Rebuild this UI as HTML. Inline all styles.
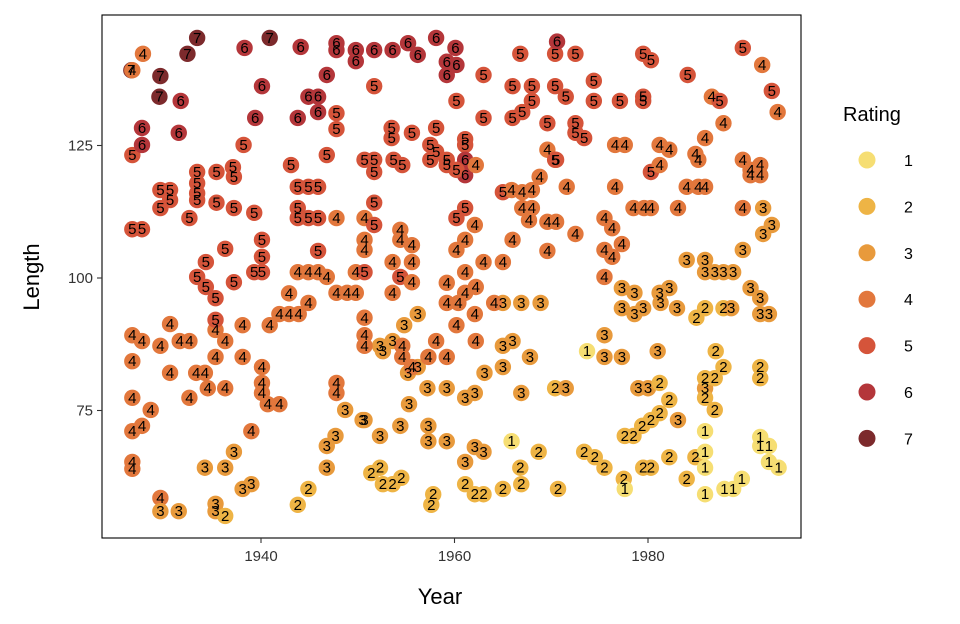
<!DOCTYPE html>
<html><head><meta charset="utf-8">
<style>
body{margin:0;background:#fff;font-family:"Liberation Sans",Arial,sans-serif;}
svg{display:block}
</style></head>
<body>
<svg id="chart" width="960" height="624" xmlns="http://www.w3.org/2000/svg">
<rect x="0" y="0" width="960" height="624" fill="#fff"/>
<g id="points"></g>
<rect x="102" y="15" width="699" height="523" fill="none" stroke="#000" stroke-width="1.1"/>
<g id="axes"></g>
<text x="440" y="604" font-size="22" text-anchor="middle" fill="#000">Year</text>
<text transform="translate(39,277) rotate(-90)" font-size="22" text-anchor="middle" fill="#000">Length</text>
<g id="legend">
<text x="843" y="121" font-size="20" fill="#000">Rating</text>
</g>
</svg>
<script>
const years=[1926.6,1926.7,1927.7,1927.7,1926.7,1927.7,1926.7,1927.7,1926.7,1926.7,1927.7,1926.7,1928.6,1926.7,1926.7,1929.6,1929.6,1931.5,1930.6,1929.6,1931.6,1932.6,1930.6,1933.3,1934.2,1934.5,1932.6,1936.3,1935.3,1935.3,1935.3,1936.3,1938.1,1938.1,1940.1,1940.1,1940.1,1940.7,1941.9,1939,1934.2,1936.3,1937.2,1935.3,1935.3,1936.3,1938.1,1939,1929.6,1930.6,1929.6,1930.6,1932.6,1933.4,1933.4,1933.4,1933.4,1935.4,1935.4,1937.1,1937.2,1937.2,1939.3,1938.2,1939.4,1940.1,1938.3,1931.7,1931.5,1934.3,1933.4,1934.3,1935.3,1936.3,1937.2,1939.3,1940.1,1940.1,1940.1,1943.1,1943.8,1943.8,1943.8,1944.9,1944.9,1945.9,1945.9,1946.8,1945.9,1947.8,1943.8,1944.9,1945.9,1946.8,1942.9,1944.9,1947.8,1948.9,1949.8,1949.8,1943.9,1942.9,1941.9,1940.9,1947.8,1947.8,1948.7,1950.7,1947.7,1946.8,1946.8,1944.9,1943.8,1944.1,1943.8,1944.9,1945.9,1945.9,1946.8,1947.8,1947.8,1947.8,1947.8,1949.8,1949.8,1951.7,1953.6,1956.2,1955.2,1958.1,1959.2,1960.1,1960.2,1959.2,1951.7,1950.7,1951.7,1951.7,1953.7,1953.5,1953.5,1954.6,1955.6,1957.5,1957.5,1958.1,1958.1,1959.2,1959.2,1960.2,1961.1,1961.1,1961.1,1961.1,1960.2,1962.2,1963,1963,1960.2,1961.1,1960.2,1961.1,1962.1,1963,1965,1966,1965,1966,1965.9,1967,1967,1968,1968,1966,1968,1968,1967,1966.8,1970.4,1970.4,1969.6,1969.6,1970.4,1971.5,1970.6,1972.5,1972.5,1972.5,1973.4,1974.4,1974.4,1970.5,1971.6,1968.8,1967.7,1969.6,1970.5,1969.6,1972.5,1975.5,1976.6,1975.5,1976.3,1977.3,1975.5,1976.3,1977.1,1976.6,1977.6,1979.5,1979.5,1980.3,1979.5,1980.3,1978.5,1979.6,1980.3,1981.2,1981.2,1982.2,1983.1,1984.1,1984,1985.2,1985.2,1985.9,1984.9,1985.9,1986.6,1987.4,1987.8,1989.8,1989.8,1991.8,1992.8,1993.4,1989.8,1990.6,1991.6,1991.6,1990.6,1991.9,1991.9,1992.8,1989.8,1985.9,1985.9,1986.9,1987.8,1988.8,1984,1982.2,1981.2,1978.6,1977.3,1977.3,1978.6,1979.5,1981.3,1983,1985,1985.9,1987.8,1988.6,1990.6,1991.6,1991.6,1992.5,1975.5,1975.5,1977.3,1981,1979,1980,1981.2,1982.2,1983.1,1985.9,1985.9,1986.9,1987.8,1987,1985.9,1986.9,1991.6,1991.6,1978.5,1977.6,1979.4,1980.3,1981.2,1979.5,1977.5,1975.5,1974.5,1973.4,1980.3,1982.2,1984.9,1984,1985.9,1985.9,1985.9,1985.9,1987.9,1988.8,1989.7,1991.6,1991.6,1992.5,1992.5,1993.5,1977.6,1973.7,1965.9,1966.9,1967.8,1965,1966,1965,1966.9,1968.9,1965,1963.1,1962.1,1961.1,1959.2,1957.2,1956.2,1956.2,1955.2,1955.3,1954.4,1952.3,1950.5,1957.3,1957.3,1959.2,1961.1,1962.1,1963,1961.1,1962.1,1963,1965,1966.9,1966.8,1968.7,1970.7,1957.8,1957.6,1952.3,1951.4,1952.6,1953.6,1954.5,1970.4,1971.5,1952.6,1953.6,1954.8,1952.3,1950.7,1950.7,1950.7,1954.6,1954.6,1955.6,1957.3,1958.1,1959.2,1960.2,1959.2,1959.2,1960.4,1961.1,1962.2,1962.1,1964.1,1962.2,1961.1,1953.6,1953.6,1954.4,1954.4,1954.4,1955.6,1955.6,1955.6,1950.7,1950.7,1950.7,1951.7,1950.7,1951.7,1926.7,1927.8,1929.6,1929.5,1932.4,1933.4,1940.9];
const lengths=[139.2,123.2,128.3,125.1,109.2,109.2,89.2,88.1,84.3,77.4,72.1,71.1,75.1,65.3,64,58.5,56,56,91.3,87.2,88.1,88.1,82.1,82.1,82.1,79.2,77.4,79.2,85.1,90.2,92.1,88.1,85.1,91.1,83.2,80.2,78.3,76.2,76.2,71.1,64.2,64.2,67.2,57.4,56,55.1,60.2,61.1,116.6,116.6,113.2,114.7,111.3,120,117.9,116,114.7,120,114.2,120.9,119.1,113.2,112.3,125.1,130.2,136.2,143.4,133.4,127.4,103,100.2,98.3,96.2,105.5,99.2,101.1,101.1,104,107.2,121.3,117.2,113.2,111.3,117.2,111.3,117.2,111.3,123.2,105.1,111.3,101.1,101.1,101.1,100.2,97.1,95.3,97.2,97.2,97.2,101.1,93.2,93.2,93.2,91.1,80.2,78.3,75.1,73.2,70.2,68.3,64.2,60.2,57.2,143.6,130.2,134.2,134.2,131.3,138.3,144.3,143,131.1,128.1,143,140.9,143,143,142.1,144.3,145.3,140.8,143.4,140.2,138.3,136.2,122.3,122.3,120,122.3,128.3,126.4,121.3,127.4,125.1,122.3,128.3,123.8,122.3,121.3,133.4,126.2,125.1,122.3,119.4,120.4,121.3,130.2,138.3,111.3,113.2,105.3,107.2,110,103,103,107.2,116.2,130.2,116.6,113.2,116.2,116.6,113.2,136.2,136.2,133.4,131.3,142.3,142.3,136.2,129.2,124.2,122.3,134.2,144.6,142.3,129.2,127.4,126.4,137.2,133.4,122.3,117.2,119.1,110.9,110.6,110.6,105.1,108.3,111.3,117.2,105.3,109.4,106.4,100.2,104,133.4,125.1,125.1,133.4,142.3,141.1,134.2,120,113.2,113.2,113.2,125.1,121.3,124.2,113.2,138.3,117.2,122.3,117.2,117.2,123.4,126.4,134.2,133.4,129.2,113.2,143.4,140.2,135.3,131.3,122.3,120.4,121.3,119.4,119.4,113.2,108.3,110,105.3,103.4,101.1,101.1,101.1,101.1,103.4,98.1,97.2,97.2,98.1,94.3,93.2,94.3,95.3,94.3,92.5,94.3,94.3,94.3,98.1,96.2,93.2,93.2,89.2,85.1,85.1,86.2,79.2,79.2,80.2,77,73.2,79.2,81.1,81.1,83.2,86.2,77.4,75.1,83.2,81.1,70.2,70.2,72.1,73.2,74.5,64.2,62.1,64.2,66.2,67.2,64.2,66.2,66.2,62.1,71.1,67.2,64.2,59.2,60.2,60.2,62.1,70,68.3,68.3,65.3,64.2,60.2,86.2,69.2,78.3,85.1,83.2,88.1,95.3,95.3,95.3,87.2,82.1,78.3,77.4,79.2,79.2,93.2,83.2,82.1,76.2,72.1,70.2,73.2,72.1,69.2,69.2,65.3,68.1,67.2,61.1,59.2,59.2,60.2,61.1,64.2,67.2,60.2,59.2,57.2,64.2,63.2,61.1,61.1,62.3,79.2,79.2,86.2,88.1,91.1,87.2,87.2,89.2,92.5,87.2,85.1,83.2,85.1,88.1,85.1,91.1,95.3,99.1,95.3,97.2,98.3,93.2,95.3,88.1,101.1,97.2,103,107.2,109.1,100.2,106.2,103,99.2,107.2,105.3,101.1,114.2,111.3,110,139.2,142.3,138.1,134.2,142.3,145.3,145.3];
const ratings=[7,5,6,6,5,5,4,4,4,4,4,4,4,4,4,4,3,3,4,4,4,4,4,4,4,4,4,4,4,4,5,4,4,4,4,4,4,4,4,4,3,3,3,3,3,2,3,3,5,5,5,5,5,5,5,5,5,5,5,5,5,5,5,5,6,6,6,6,6,5,5,5,5,5,5,5,5,5,5,5,5,5,5,5,5,5,5,5,5,4,4,4,4,4,4,4,4,4,4,4,4,4,4,4,4,4,3,3,3,3,3,2,2,6,6,6,6,6,6,6,6,5,5,6,6,6,6,6,6,6,6,6,6,6,5,5,5,5,5,5,5,5,5,5,5,5,5,5,5,5,5,5,6,6,5,4,5,5,5,5,4,4,4,4,4,4,5,5,4,4,4,4,4,5,5,5,5,5,5,5,5,4,5,5,6,5,5,5,5,5,5,5,4,4,4,4,4,4,4,4,4,4,4,4,4,4,5,4,4,5,5,5,5,5,4,4,4,4,4,4,4,5,4,4,4,4,4,4,4,5,4,4,5,4,5,4,4,4,4,4,4,3,3,3,3,3,3,3,3,3,3,3,3,3,3,3,3,3,3,3,2,2,2,3,3,3,3,3,3,3,3,3,3,3,2,2,3,3,2,2,2,2,2,2,2,2,2,2,2,2,2,2,2,2,2,2,2,2,2,2,1,1,1,1,1,1,1,1,1,1,1,1,1,1,1,3,3,3,3,3,3,3,3,3,3,3,3,3,3,3,3,3,3,3,3,3,3,3,3,3,3,2,2,2,2,2,2,2,2,2,2,2,2,2,2,2,2,3,3,3,3,3,4,4,4,4,4,4,4,4,4,4,4,4,4,4,4,4,4,4,4,4,4,4,4,5,4,4,4,4,4,5,5,4,5,4,4,7,7,7,7,7,7,7];
const xTicks=[1940,1960,1980];
const yTicks=[75,100,125];
const legendLevels=[1,2,3,4,5,6,7];
const palette=["#F6DE73","#EEB445","#E89A3C","#E2773C","#D5543A","#B4363A","#7C2A2C"];

const NS="http://www.w3.org/2000/svg";
function xScale(v){return 261+(v-1940)*9.675;}
function yScale(v){return 278-(v-100)*5.3;}
function mk(tag,attrs){const e=document.createElementNS(NS,tag);for(const k in attrs)e.setAttribute(k,attrs[k]);return e;}

const pl=document.getElementById('points');
const n=Math.min(years.length,lengths.length,ratings.length);
for(let i=0;i<n;i++){
  const cx=xScale(years[i]),cy=yScale(lengths[i]),r=ratings[i];
  const c=mk('circle',{cx:cx,cy:cy,r:8.2,fill:palette[r-1]});
  
  
  pl.appendChild(c);
}
for(let i=0;i<n;i++){
  const cx=xScale(years[i]),cy=yScale(lengths[i]);
  const t=mk('text',{x:cx,y:cy+5,'font-size':15,'text-anchor':'middle',fill:'#000'});
  t.textContent=ratings[i];
  
  
  pl.appendChild(t);
}
const ax=document.getElementById('axes');
xTicks.forEach(v=>{
  const x=xScale(v);
  const l=mk('line',{x1:x,x2:x,y1:538,y2:543,stroke:'#333','stroke-width':1.1});
  
  
  ax.appendChild(l);
  const t=mk('text',{x:x,y:561,'font-size':15,'text-anchor':'middle',fill:'#333'});
  t.textContent=v;
  
  
  ax.appendChild(t);
});
yTicks.forEach(v=>{
  const y=yScale(v);
  const l=mk('line',{x1:97,x2:102,y1:y,y2:y,stroke:'#333','stroke-width':1.1});
  
  
  ax.appendChild(l);
  const t=mk('text',{x:93,y:y+5,'font-size':15,'text-anchor':'end',fill:'#333'});
  t.textContent=v;
  
  
  ax.appendChild(t);
});
const lg=document.getElementById('legend');
legendLevels.forEach((v,i)=>{
  const y=160+i*46.4;
  const c=mk('circle',{cx:867,cy:y,r:8.5,fill:palette[v-1]});
  
  
  lg.appendChild(c);
  const t=mk('text',{x:904,y:y+6,'font-size':16,fill:'#000'});
  t.textContent=v;
  
  
  lg.appendChild(t);
});
</script>
</body></html>
